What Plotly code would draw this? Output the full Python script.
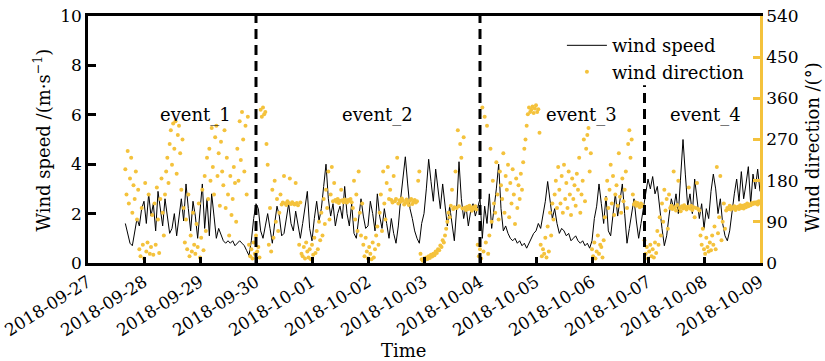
import pandas as pd
import plotly.graph_objects as go

start_time = "2018-09-27 16:00"

# hourly wind speed (m/s) from 2018-09-27 16:00 to 2018-10-09 00:00
wind_speed = [
    1.6, 1.2, 0.8, 0.7, 1.3, 1.8, 1.5, 2.2,
    2.5, 1.6, 2.8, 1.9, 2.4, 1.3, 2.9, 2.1, 1.5, 2.6, 1.8, 1.2,
    1.4, 2.0, 1.1, 1.8, 2.6, 1.7, 3.2, 2.2, 1.3, 2.5, 1.9, 1.0,
    2.1, 3.2, 1.4, 2.6, 1.1, 2.8, 1.9, 1.0, 1.4, 1.1, 0.9, 0.8,
    0.9, 0.8, 0.9, 0.7, 0.8, 0.9, 0.8, 0.7, 0.5, 0.3, 0.9, 1.8,
    2.4, 2.2, 1.3, 1.0, 1.5, 2.0, 1.4, 0.8, 1.6, 2.3, 1.9, 1.1,
    1.2, 1.9, 2.4, 1.6, 1.3, 2.1, 1.5, 1.0, 1.6, 2.2, 2.9, 1.4,
    0.9, 1.8, 2.5, 1.7, 2.2, 3.1, 4.0, 2.6, 1.9, 2.4, 1.5, 2.0,
    2.3, 1.8, 3.1, 2.0, 1.5, 2.4, 1.2, 1.0, 1.7, 2.6, 1.9, 1.4,
    1.5, 2.5, 2.0, 1.3, 2.8, 1.9, 1.4, 2.2, 1.6, 1.0, 1.8, 1.2,
    0.8, 1.5, 2.6, 3.6, 4.3, 3.2, 2.2, 1.8, 1.3, 1.0, 0.8, 1.6,
    2.0, 3.0, 4.2, 3.3, 2.5, 3.8, 2.9, 2.2, 3.2, 2.4, 1.5, 2.3,
    1.6, 0.9, 2.2, 4.1, 2.6, 1.8, 2.3, 1.5, 2.1, 2.4, 1.9, 2.3,
    2.6, 1.0, 2.3, 1.6, 2.8, 1.4, 2.1, 3.0, 4.0, 2.2, 1.3, 1.5,
    1.2, 1.0, 0.9, 1.0, 0.8, 0.9, 0.7, 0.8, 0.6, 0.8, 1.0, 1.2,
    1.3, 1.6, 1.4, 1.9, 2.5, 3.3, 2.6, 1.8, 2.2, 1.6, 1.2, 1.4,
    1.3, 1.1, 1.2, 0.9, 1.0, 1.1, 0.9, 0.8, 0.9, 0.7, 0.8, 0.6,
    0.9, 1.8, 2.3, 3.2, 2.4, 1.6, 2.7, 1.3, 1.1, 2.1, 2.8, 1.9,
    2.6, 3.2, 2.0, 0.8, 1.4, 2.1, 2.6, 1.7, 1.0, 1.6, 2.3, 2.8,
    3.4, 3.0, 3.5, 2.8, 3.1, 2.2, 1.4, 0.7, 1.1, 1.9, 2.6, 2.2,
    2.8, 2.0, 3.3, 5.0, 3.6, 2.3, 2.8, 2.0, 3.4, 2.6, 1.8, 2.4,
    1.4, 2.2, 1.8, 2.9, 3.6, 3.0, 2.0, 2.6, 1.6, 1.1, 0.9, 1.3,
    2.1, 2.8, 3.4, 2.5, 3.7, 2.6, 3.2, 3.9, 2.4, 3.6, 3.0, 3.8,
    2.9,
]

# half-hourly wind direction (deg) from 2018-09-27 16:00 to 2018-10-09 00:00
wind_direction = [
    205, 150, 245, 130, 185, 230, 110, 170, 140, 200, 95, 160,
    30, 15, 120, 40, 10, 175, 25, 45, 150, 20, 35, 105,
    18, 130, 40, 165, 95, 22, 140, 185, 110, 60, 150, 200,
    230, 175, 260, 290, 215, 305, 250, 310, 195, 280, 300, 240,
    160, 270, 120, 45, 95, 30, 150, 15, 60, 25, 110, 40,
    20, 85, 35, 130, 12, 55, 160, 28, 190, 70, 230, 140,
    250, 180, 295, 210, 150, 275, 300, 190, 240, 125, 265, 200,
    170, 290, 120, 230, 150, 60, 190, 105, 140, 210, 175, 90,
    250, 180, 310, 225, 330, 270, 200, 300, 150, 320, 40, 15,
    30, 10, 45, 20, 60, 25, 35, 12, 335, 320, 340, 325,
    330, 260, 215, 40, 120, 25, 160, 55, 180, 90, 140, 70,
    110, 150, 128, 132, 190, 130, 127, 135, 131, 185, 129, 133,
    130, 128, 175, 131, 126, 40, 132, 20, 15, 35, 10, 45,
    25, 12, 30, 8, 40, 18, 55, 22, 70, 30, 90, 50,
    110, 60, 140, 85, 160, 120, 200, 95, 150, 210, 135, 175,
    138, 134, 140, 131, 136, 160, 137, 133, 139, 135, 132, 138,
    136, 140, 133, 120, 180, 95, 150, 70, 200, 110, 60, 130,
    40, 15, 55, 25, 10, 35, 20, 8, 45, 12, 30, 60,
    80, 40, 110, 150, 70, 200, 130, 95, 175, 210, 140, 160,
    138, 132, 190, 135, 140, 230, 130, 137, 134, 141, 136, 128,
    131, 139, 133, 127, 136, 140, 129, 134, 138, 132, 135, 180,
    200, 20, 8, 5, 10, 7, 12, 9, 15, 11, 18, 14,
    20, 17, 25, 22, 30, 28, 38, 35, 50, 45, 60, 75,
    90, 110, 100, 125, 160, 118, 122, 200, 120, 290, 124, 260,
    230, 119, 275, 121, 116, 123, 118, 125, 120, 114, 122, 119,
    124, 117, 40, 15, 30, 10, 340, 25, 320, 45, 300, 20,
    60, 250, 90, 180, 130, 110, 220, 150, 95, 200, 170, 140,
    240, 110, 190, 160, 215, 100, 175, 130, 205, 150, 85, 185,
    120, 170, 140, 195, 160, 220, 250, 270, 300, 325, 340, 330,
    335, 342, 328, 338, 345, 330, 336, 285, 40, 15, 30, 20,
    55, 12, 80, 25, 110, 60, 130, 95, 150, 180, 120, 210,
    160, 130, 190, 110, 215, 140, 175, 120, 200, 150, 105, 185,
    140, 170, 125, 195, 160, 230, 110, 150, 180, 270, 135, 250,
    280, 295, 200, 240, 30, 15, 45, 10, 25, 60, 20, 40,
    35, 12, 50, 100, 140, 180, 120, 160, 215, 130, 190, 105,
    150, 170, 125, 240, 145, 110, 185, 135, 160, 200, 120, 260,
    290, 230, 270, 150, 128, 133, 125, 131, 127, 122, 130, 126,
    124, 50, 20, 35, 10, 25, 40, 15, 30, 12, 45, 22,
    70, 40, 100, 60, 130, 90, 160, 115, 140, 75, 150, 120,
    125, 118, 200, 122, 115, 127, 180, 120, 113, 124, 119, 126,
    121, 117, 123, 165, 119, 125, 116, 122, 100, 120, 175, 118,
    115, 60, 40, 75, 30, 20, 55, 35, 25, 45, 28, 60,
    40, 80, 30, 210, 65, 100, 190, 50, 90, 130, 75, 115,
    120, 118, 125, 117, 122, 119, 124, 116, 121, 123, 118, 126,
    120, 125, 119, 127, 122, 130, 124, 128, 126, 131, 129, 132,
    130, 133, 128, 135, 131,
]

event_line_times = ["2018-09-30 00:00", "2018-10-04 00:00", "2018-10-06 22:30"]
event_line_tops = [1.0, 1.0, 0.72]
event_names = ["event_1", "event_2", "event_3", "event_4"]
event_label_times = ["2018-09-28 22:00", "2018-10-02 04:00", "2018-10-05 19:40", "2018-10-08 00:30"]

x_range = ["2018-09-27", "2018-10-09"]
day_ticks = pd.date_range(x_range[0], x_range[1], freq="D")
day_labels = [d.strftime("%Y-%m-%d") for d in day_ticks]

speed_time = pd.date_range(start_time, periods=len(wind_speed), freq="60min")
dir_time = pd.date_range(start_time, periods=len(wind_direction), freq="30min")

YELLOW = "#F4C23C"
FONT = "DejaVu Serif, Liberation Serif, serif"

fig = go.Figure()
fig.add_trace(go.Scatter(x=speed_time, y=wind_speed, mode="lines", name="wind speed",
                         line=dict(color="black", width=1), yaxis="y"))
fig.add_trace(go.Scatter(x=dir_time, y=wind_direction, mode="markers", name="wind direction",
                         marker=dict(color=YELLOW, size=4, line=dict(width=0)), yaxis="y2"))

for t, top in zip(event_line_times, event_line_tops):
    fig.add_shape(type="line", xref="x", yref="paper", x0=t, x1=t, y0=0, y1=top,
                  line=dict(color="black", width=3, dash="10px,6px"))

for name, t in zip(event_names, event_label_times):
    fig.add_annotation(x=t, y=0.6, xref="x", yref="paper", text=name, showarrow=False,
                       xanchor="center", yanchor="middle",
                       font=dict(family=FONT, size=18, color="black"))

fig.add_annotation(x=0.469, y=-0.355, xref="paper", yref="paper", text="Time", showarrow=False,
                   xanchor="center", yanchor="middle",
                   font=dict(family=FONT, size=18, color="black"))
fig.add_annotation(x=-0.0685, y=0.5, xref="paper", yref="paper", text="Wind speed /(m·s<sup>−1</sup>)",
                   textangle=-90, showarrow=False, xanchor="center", yanchor="middle",
                   font=dict(family=FONT, size=18, color="black"))
fig.add_annotation(x=1.079, y=0.47, xref="paper", yref="paper", text="Wind direction /(°)",
                   textangle=-90, showarrow=False, xanchor="center", yanchor="middle",
                   font=dict(family=FONT, size=18, color="black"))

fig.update_layout(
    width=825, height=361,
    margin=dict(l=88, r=65, t=16, b=98, autoexpand=False),
    paper_bgcolor="white", plot_bgcolor="white",
    font=dict(family=FONT, size=16, color="black"),
    showlegend=True,
    legend=dict(x=0.985, y=0.955, xanchor="right", yanchor="top", bgcolor="rgba(0,0,0,0)",
                font=dict(family=FONT, size=18), tracegroupgap=0, itemwidth=40),
    xaxis=dict(type="date", range=x_range, tickmode="array", tickvals=day_ticks, ticktext=day_labels,
               tickangle=-32, showline=True, linecolor="black", linewidth=2.5, mirror=True,
               ticks="inside", ticklen=6, tickwidth=2.5, tickcolor="black", showgrid=False, zeroline=False,
               tickfont=dict(family=FONT, size=17), automargin=False),
    yaxis=dict(range=[0, 10], dtick=2, showline=True, linecolor="black", linewidth=2.5,
               ticks="inside", ticklen=8, tickwidth=2.5, tickcolor="black", showgrid=False, zeroline=False,
               tickfont=dict(family=FONT, size=17), automargin=False),
    yaxis2=dict(range=[0, 540], dtick=90, overlaying="y", side="right", showline=True,
                linecolor=YELLOW, linewidth=2.5, ticks="inside", ticklen=7, tickwidth=2.5,
                tickcolor=YELLOW, showgrid=False, zeroline=False, tickfont=dict(family=FONT, size=17),
                automargin=False),
)

fig.write_html("out.html")
